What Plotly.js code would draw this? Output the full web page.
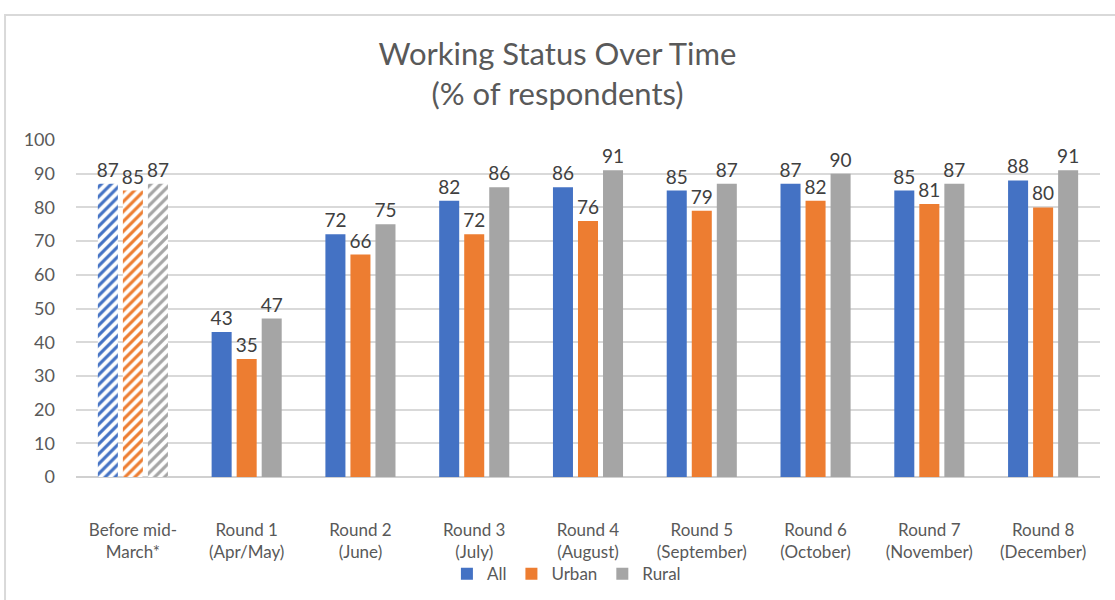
<!DOCTYPE html>
<html>
<head>
<meta charset="utf-8">
<script src="https://cdn.plot.ly/plotly-3.0.1.min.js"></script>
<style>
  html, body { margin: 0; padding: 0; background: #ffffff; }
  #chart { width: 1115px; height: 600px; }
</style>
</head>
<body>
<div id="chart"></div>
<script>
const categories = [
  "Before mid-<br>March*",
  "Round 1<br>(Apr/May)",
  "Round 2<br>(June)",
  "Round 3<br>(July)",
  "Round 4<br>(August)",
  "Round 5<br>(September)",
  "Round 6<br>(October)",
  "Round 7<br>(November)",
  "Round 8<br>(December)"
];
const allValues   = [87, 43, 72, 82, 86, 85, 87, 85, 88];
const urbanValues = [85, 35, 66, 72, 76, 79, 82, 81, 80];
const ruralValues = [87, 47, 75, 86, 91, 87, 90, 87, 91];
const seriesNames = ["All", "Urban", "Rural"];
const yTicks = [0, 10, 20, 30, 40, 50, 60, 70, 80, 90, 100];

const colors = ["#4472C4", "#ED7D31", "#A5A5A5"];
const fontFamily = "Lato, 'Open Sans', sans-serif";
const labelFont = { family: fontFamily, size: 19, color: "#404040" };

const traces = [];
[allValues, urbanValues, ruralValues].forEach((vals, k) => {
  // first category (before mid-March): hatched bars
  traces.push({
    type: "bar",
    name: seriesNames[k],
    legendgroup: seriesNames[k],
    offsetgroup: seriesNames[k],
    showlegend: false,
    x: categories.slice(0, 1),
    y: vals.slice(0, 1),
    text: vals.slice(0, 1).map(String),
    textposition: "outside",
    constraintext: "none",
    cliponaxis: false,
    textfont: labelFont,
    marker: {
      color: colors[k],
      line: { width: 0 },
      pattern: {
        shape: "/",
        fgcolor: colors[k],
        bgcolor: "#ffffff",
        size: 7,
        solidity: 0.45,
        fillmode: "replace"
      }
    }
  });
  // survey rounds: solid bars
  traces.push({
    type: "bar",
    name: seriesNames[k],
    legendgroup: seriesNames[k],
    offsetgroup: seriesNames[k],
    showlegend: true,
    x: categories.slice(1),
    y: vals.slice(1),
    text: vals.slice(1).map(String),
    textposition: "outside",
    constraintext: "none",
    cliponaxis: false,
    textfont: labelFont,
    marker: { color: colors[k], line: { width: 0 } }
  });
});

const layout = {
  width: 1115,
  height: 600,
  margin: { l: 76, r: 15, t: 140, b: 123 },
  paper_bgcolor: "#ffffff",
  plot_bgcolor: "#ffffff",
  font: { family: fontFamily, size: 18, color: "#595959" },
  title: {
    text: "Working Status Over Time<br>(% of respondents)",
    font: { family: fontFamily, size: 31, color: "#595959" },
    x: 0.5,
    xanchor: "center",
    y: 0.892,
    yanchor: "middle"
  },
  barmode: "group",
  bargap: 0.34,
  bargroupgap: 0.2,
  xaxis: {
    type: "category",
    categoryorder: "array",
    categoryarray: categories,
    showgrid: false,
    showline: false,
    zeroline: false,
    ticks: "",
    ticklabelstandoff: 41,
    tickfont: { family: fontFamily, size: 17, color: "#595959" },
    automargin: false
  },
  yaxis: {
    range: [0, 100],
    tickvals: yTicks,
    ticktext: yTicks.map(String),
    showgrid: true,
    gridcolor: "#d9d9d9",
    gridwidth: 1.5,
    zeroline: true,
    zerolinecolor: "#d0d0d0",
    zerolinewidth: 2,
    showline: false,
    ticks: "",
    ticklabelstandoff: 20,
    tickfont: { family: fontFamily, size: 18, color: "#595959" },
    automargin: false
  },
  showlegend: true,
  legend: {
    orientation: "h",
    xref: "container",
    yref: "container",
    x: 0.508,
    xanchor: "center",
    y: 0.043,
    yanchor: "middle",
    bgcolor: "rgba(0,0,0,0)",
    font: { family: fontFamily, size: 17, color: "#595959" },
    itemwidth: 30,
    traceorder: "normal"
  },
  shapes: [
    {
      type: "path",
      xref: "paper",
      yref: "paper",
      path: "M -0.0693 -0.5 L -0.0693 1.371 L 1.02 1.371",
      line: { color: "#d9d9d9", width: 2 }
    }
  ]
};

Plotly.newPlot("chart", traces, layout, { displayModeBar: false });
</script>
</body>
</html>
